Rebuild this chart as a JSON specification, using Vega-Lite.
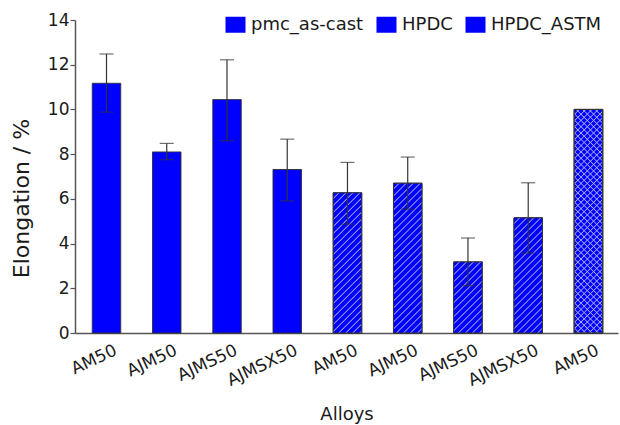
{
  "$schema": "https://vega.github.io/schema/vega-lite/v6.json",
  "autosize": {"type": "none"},
  "padding": {"left": 75, "top": 20, "right": 2, "bottom": 92},
  "width": 543,
  "height": 313,
  "background": "white",
  "config": {
    "view": {"stroke": null},
    "font": "DejaVu Sans",
    "axis": {"grid": false, "domainColor": "#555", "tickColor": "#555", "labelColor": "#1a1a1a", "titleColor": "#1a1a1a", "titleFontWeight": "normal", "domainWidth": 1.5, "tickWidth": 1.2}
  },
  "params": [
    {"name": "hatchA", "value": [
      {"offset":0,"color":"#00f"},{"offset":0.016,"color":"#00f"},{"offset":0.0205,"color":"#aaf"},
      {"offset":0.025,"color":"#00f"},{"offset":0.041,"color":"#00f"},{"offset":0.0455,"color":"#aaf"},
      {"offset":0.05,"color":"#00f"},{"offset":0.066,"color":"#00f"},{"offset":0.0705,"color":"#aaf"},
      {"offset":0.075,"color":"#00f"},{"offset":0.091,"color":"#00f"},{"offset":0.0955,"color":"#aaf"},
      {"offset":0.1,"color":"#00f"},{"offset":0.116,"color":"#00f"},{"offset":0.1205,"color":"#aaf"},
      {"offset":0.125,"color":"#00f"},{"offset":0.141,"color":"#00f"},{"offset":0.1455,"color":"#aaf"},
      {"offset":0.15,"color":"#00f"},{"offset":0.166,"color":"#00f"},{"offset":0.1705,"color":"#aaf"},
      {"offset":0.175,"color":"#00f"},{"offset":0.191,"color":"#00f"},{"offset":0.1955,"color":"#aaf"},
      {"offset":0.2,"color":"#00f"},{"offset":0.216,"color":"#00f"},{"offset":0.2205,"color":"#aaf"},
      {"offset":0.225,"color":"#00f"},{"offset":0.241,"color":"#00f"},{"offset":0.2455,"color":"#aaf"},
      {"offset":0.25,"color":"#00f"},{"offset":0.266,"color":"#00f"},{"offset":0.2705,"color":"#aaf"},
      {"offset":0.275,"color":"#00f"},{"offset":0.291,"color":"#00f"},{"offset":0.2955,"color":"#aaf"},
      {"offset":0.3,"color":"#00f"},{"offset":0.316,"color":"#00f"},{"offset":0.3205,"color":"#aaf"},
      {"offset":0.325,"color":"#00f"},{"offset":0.341,"color":"#00f"},{"offset":0.3455,"color":"#aaf"},
      {"offset":0.35,"color":"#00f"},{"offset":0.366,"color":"#00f"},{"offset":0.3705,"color":"#aaf"},
      {"offset":0.375,"color":"#00f"},{"offset":0.391,"color":"#00f"},{"offset":0.3955,"color":"#aaf"},
      {"offset":0.4,"color":"#00f"},{"offset":0.416,"color":"#00f"},{"offset":0.4205,"color":"#aaf"},
      {"offset":0.425,"color":"#00f"},{"offset":0.441,"color":"#00f"},{"offset":0.4455,"color":"#aaf"},
      {"offset":0.45,"color":"#00f"},{"offset":0.466,"color":"#00f"},{"offset":0.4705,"color":"#aaf"},
      {"offset":0.475,"color":"#00f"},{"offset":0.491,"color":"#00f"},{"offset":0.4955,"color":"#aaf"},
      {"offset":0.5,"color":"#00f"},{"offset":0.516,"color":"#00f"},{"offset":0.5205,"color":"#aaf"},
      {"offset":0.525,"color":"#00f"},{"offset":0.541,"color":"#00f"},{"offset":0.5455,"color":"#aaf"},
      {"offset":0.55,"color":"#00f"},{"offset":0.566,"color":"#00f"},{"offset":0.5705,"color":"#aaf"},
      {"offset":0.575,"color":"#00f"},{"offset":0.591,"color":"#00f"},{"offset":0.5955,"color":"#aaf"},
      {"offset":0.6,"color":"#00f"},{"offset":0.616,"color":"#00f"},{"offset":0.6205,"color":"#aaf"},
      {"offset":0.625,"color":"#00f"},{"offset":0.641,"color":"#00f"},{"offset":0.6455,"color":"#aaf"},
      {"offset":0.65,"color":"#00f"},{"offset":0.666,"color":"#00f"},{"offset":0.6705,"color":"#aaf"},
      {"offset":0.675,"color":"#00f"},{"offset":0.691,"color":"#00f"},{"offset":0.6955,"color":"#aaf"},
      {"offset":0.7,"color":"#00f"},{"offset":0.716,"color":"#00f"},{"offset":0.7205,"color":"#aaf"},
      {"offset":0.725,"color":"#00f"},{"offset":0.741,"color":"#00f"},{"offset":0.7455,"color":"#aaf"},
      {"offset":0.75,"color":"#00f"},{"offset":0.766,"color":"#00f"},{"offset":0.7705,"color":"#aaf"},
      {"offset":0.775,"color":"#00f"},{"offset":0.791,"color":"#00f"},{"offset":0.7955,"color":"#aaf"},
      {"offset":0.8,"color":"#00f"},{"offset":0.816,"color":"#00f"},{"offset":0.8205,"color":"#aaf"},
      {"offset":0.825,"color":"#00f"},{"offset":0.841,"color":"#00f"},{"offset":0.8455,"color":"#aaf"},
      {"offset":0.85,"color":"#00f"},{"offset":0.866,"color":"#00f"},{"offset":0.8705,"color":"#aaf"},
      {"offset":0.875,"color":"#00f"},{"offset":0.891,"color":"#00f"},{"offset":0.8955,"color":"#aaf"},
      {"offset":0.9,"color":"#00f"},{"offset":0.916,"color":"#00f"},{"offset":0.9205,"color":"#aaf"},
      {"offset":0.925,"color":"#00f"},{"offset":0.941,"color":"#00f"},{"offset":0.9455,"color":"#aaf"},
      {"offset":0.95,"color":"#00f"},{"offset":0.966,"color":"#00f"},{"offset":0.9705,"color":"#aaf"},
      {"offset":0.975,"color":"#00f"},{"offset":0.991,"color":"#00f"},{"offset":0.9955,"color":"#aaf"},
      {"offset":1,"color":"#00f"}
    ]},
    {"name": "hatchB", "value": [
      {"offset":0,"color":"rgba(170,170,255,0)"},{"offset":0.016,"color":"rgba(170,170,255,0)"},{"offset":0.0205,"color":"#aaf"},
      {"offset":0.025,"color":"rgba(170,170,255,0)"},{"offset":0.041,"color":"rgba(170,170,255,0)"},{"offset":0.0455,"color":"#aaf"},
      {"offset":0.05,"color":"rgba(170,170,255,0)"},{"offset":0.066,"color":"rgba(170,170,255,0)"},{"offset":0.0705,"color":"#aaf"},
      {"offset":0.075,"color":"rgba(170,170,255,0)"},{"offset":0.091,"color":"rgba(170,170,255,0)"},{"offset":0.0955,"color":"#aaf"},
      {"offset":0.1,"color":"rgba(170,170,255,0)"},{"offset":0.116,"color":"rgba(170,170,255,0)"},{"offset":0.1205,"color":"#aaf"},
      {"offset":0.125,"color":"rgba(170,170,255,0)"},{"offset":0.141,"color":"rgba(170,170,255,0)"},{"offset":0.1455,"color":"#aaf"},
      {"offset":0.15,"color":"rgba(170,170,255,0)"},{"offset":0.166,"color":"rgba(170,170,255,0)"},{"offset":0.1705,"color":"#aaf"},
      {"offset":0.175,"color":"rgba(170,170,255,0)"},{"offset":0.191,"color":"rgba(170,170,255,0)"},{"offset":0.1955,"color":"#aaf"},
      {"offset":0.2,"color":"rgba(170,170,255,0)"},{"offset":0.216,"color":"rgba(170,170,255,0)"},{"offset":0.2205,"color":"#aaf"},
      {"offset":0.225,"color":"rgba(170,170,255,0)"},{"offset":0.241,"color":"rgba(170,170,255,0)"},{"offset":0.2455,"color":"#aaf"},
      {"offset":0.25,"color":"rgba(170,170,255,0)"},{"offset":0.266,"color":"rgba(170,170,255,0)"},{"offset":0.2705,"color":"#aaf"},
      {"offset":0.275,"color":"rgba(170,170,255,0)"},{"offset":0.291,"color":"rgba(170,170,255,0)"},{"offset":0.2955,"color":"#aaf"},
      {"offset":0.3,"color":"rgba(170,170,255,0)"},{"offset":0.316,"color":"rgba(170,170,255,0)"},{"offset":0.3205,"color":"#aaf"},
      {"offset":0.325,"color":"rgba(170,170,255,0)"},{"offset":0.341,"color":"rgba(170,170,255,0)"},{"offset":0.3455,"color":"#aaf"},
      {"offset":0.35,"color":"rgba(170,170,255,0)"},{"offset":0.366,"color":"rgba(170,170,255,0)"},{"offset":0.3705,"color":"#aaf"},
      {"offset":0.375,"color":"rgba(170,170,255,0)"},{"offset":0.391,"color":"rgba(170,170,255,0)"},{"offset":0.3955,"color":"#aaf"},
      {"offset":0.4,"color":"rgba(170,170,255,0)"},{"offset":0.416,"color":"rgba(170,170,255,0)"},{"offset":0.4205,"color":"#aaf"},
      {"offset":0.425,"color":"rgba(170,170,255,0)"},{"offset":0.441,"color":"rgba(170,170,255,0)"},{"offset":0.4455,"color":"#aaf"},
      {"offset":0.45,"color":"rgba(170,170,255,0)"},{"offset":0.466,"color":"rgba(170,170,255,0)"},{"offset":0.4705,"color":"#aaf"},
      {"offset":0.475,"color":"rgba(170,170,255,0)"},{"offset":0.491,"color":"rgba(170,170,255,0)"},{"offset":0.4955,"color":"#aaf"},
      {"offset":0.5,"color":"rgba(170,170,255,0)"},{"offset":0.516,"color":"rgba(170,170,255,0)"},{"offset":0.5205,"color":"#aaf"},
      {"offset":0.525,"color":"rgba(170,170,255,0)"},{"offset":0.541,"color":"rgba(170,170,255,0)"},{"offset":0.5455,"color":"#aaf"},
      {"offset":0.55,"color":"rgba(170,170,255,0)"},{"offset":0.566,"color":"rgba(170,170,255,0)"},{"offset":0.5705,"color":"#aaf"},
      {"offset":0.575,"color":"rgba(170,170,255,0)"},{"offset":0.591,"color":"rgba(170,170,255,0)"},{"offset":0.5955,"color":"#aaf"},
      {"offset":0.6,"color":"rgba(170,170,255,0)"},{"offset":0.616,"color":"rgba(170,170,255,0)"},{"offset":0.6205,"color":"#aaf"},
      {"offset":0.625,"color":"rgba(170,170,255,0)"},{"offset":0.641,"color":"rgba(170,170,255,0)"},{"offset":0.6455,"color":"#aaf"},
      {"offset":0.65,"color":"rgba(170,170,255,0)"},{"offset":0.666,"color":"rgba(170,170,255,0)"},{"offset":0.6705,"color":"#aaf"},
      {"offset":0.675,"color":"rgba(170,170,255,0)"},{"offset":0.691,"color":"rgba(170,170,255,0)"},{"offset":0.6955,"color":"#aaf"},
      {"offset":0.7,"color":"rgba(170,170,255,0)"},{"offset":0.716,"color":"rgba(170,170,255,0)"},{"offset":0.7205,"color":"#aaf"},
      {"offset":0.725,"color":"rgba(170,170,255,0)"},{"offset":0.741,"color":"rgba(170,170,255,0)"},{"offset":0.7455,"color":"#aaf"},
      {"offset":0.75,"color":"rgba(170,170,255,0)"},{"offset":0.766,"color":"rgba(170,170,255,0)"},{"offset":0.7705,"color":"#aaf"},
      {"offset":0.775,"color":"rgba(170,170,255,0)"},{"offset":0.791,"color":"rgba(170,170,255,0)"},{"offset":0.7955,"color":"#aaf"},
      {"offset":0.8,"color":"rgba(170,170,255,0)"},{"offset":0.816,"color":"rgba(170,170,255,0)"},{"offset":0.8205,"color":"#aaf"},
      {"offset":0.825,"color":"rgba(170,170,255,0)"},{"offset":0.841,"color":"rgba(170,170,255,0)"},{"offset":0.8455,"color":"#aaf"},
      {"offset":0.85,"color":"rgba(170,170,255,0)"},{"offset":0.866,"color":"rgba(170,170,255,0)"},{"offset":0.8705,"color":"#aaf"},
      {"offset":0.875,"color":"rgba(170,170,255,0)"},{"offset":0.891,"color":"rgba(170,170,255,0)"},{"offset":0.8955,"color":"#aaf"},
      {"offset":0.9,"color":"rgba(170,170,255,0)"},{"offset":0.916,"color":"rgba(170,170,255,0)"},{"offset":0.9205,"color":"#aaf"},
      {"offset":0.925,"color":"rgba(170,170,255,0)"},{"offset":0.941,"color":"rgba(170,170,255,0)"},{"offset":0.9455,"color":"#aaf"},
      {"offset":0.95,"color":"rgba(170,170,255,0)"},{"offset":0.966,"color":"rgba(170,170,255,0)"},{"offset":0.9705,"color":"#aaf"},
      {"offset":0.975,"color":"rgba(170,170,255,0)"},{"offset":0.991,"color":"rgba(170,170,255,0)"},{"offset":0.9955,"color":"#aaf"},
      {"offset":1,"color":"rgba(170,170,255,0)"}
    ]}
  ],
  "data": {"values": [
    {"bar": "AM50 pmc", "process": "pmc_as-cast", "elong": 11.17, "lo": 9.88, "hi": 12.48},
    {"bar": "AJM50 pmc", "process": "pmc_as-cast", "elong": 8.1, "lo": 7.75, "hi": 8.48},
    {"bar": "AJMS50 pmc", "process": "pmc_as-cast", "elong": 10.44, "lo": 8.6, "hi": 12.22},
    {"bar": "AJMSX50 pmc", "process": "pmc_as-cast", "elong": 7.31, "lo": 5.91, "hi": 8.67},
    {"bar": "AM50 HPDC", "process": "HPDC", "elong": 6.27, "lo": 4.87, "hi": 7.63},
    {"bar": "AJM50 HPDC", "process": "HPDC", "elong": 6.7, "lo": 5.54, "hi": 7.87},
    {"bar": "AJMS50 HPDC", "process": "HPDC", "elong": 3.18, "lo": 2.11, "hi": 4.25},
    {"bar": "AJMSX50 HPDC", "process": "HPDC", "elong": 5.15, "lo": 3.57, "hi": 6.72},
    {"bar": "AM50 HPDC_ASTM", "process": "HPDC_ASTM", "elong": 10.0, "lo": null, "hi": null}
  ]},
  "encoding": {
    "x": {
      "field": "bar", "type": "nominal", "sort": null,
      "scale": {"paddingInner": 0.527, "paddingOuter": 0.27, "align": 0.53},
      "axis": {"title": "Alloys", "titleFontSize": 18, "titleBaseline": "alphabetic", "titleY": 86, "labelExpr": "split(datum.label, ' ')[0]", "labelAngle": -25, "labelAlign": "right", "labelBaseline": "top", "labelPadding": 9, "labelOffset": 6, "labelFontSize": 17, "ticks": false, "labelOverlap": false}
    }
  },
  "layer": [
    {
      "mark": {"type": "bar", "color": "#0000ff", "stroke": "#333", "strokeWidth": 1},
      "encoding": {
        "y": {
          "field": "elong", "type": "quantitative",
          "scale": {"domain": [0, 14], "nice": false, "zero": true},
          "axis": {"title": "Elongation / %", "titleFontSize": 22, "titleY": 178, "titlePadding": 14, "values": [0,1,2,3,4,5,6,7,8,9,10,11,12,13,14], "labelExpr": "datum.value % 2 == 0 ? datum.label : ''", "labelFontSize": 17, "labelPadding": 1, "tickSize": {"condition": {"test": "datum.value % 2 == 1", "value": 3}, "value": 5}}
        },
        "strokeDash": {
          "field": "process", "type": "nominal",
          "scale": {"domain": ["pmc_as-cast", "HPDC", "HPDC_ASTM"], "range": [[1, 0], [1, 0], [1, 0]]},
          "legend": {
            "title": null, "orient": "none", "legendX": 150, "legendY": -6, "direction": "horizontal",
            "columnPadding": 10, "labelFontSize": 18, "labelOffset": 5, "labelColor": "#1a1a1a",
            "symbolType": "M-1,-0.8H1V0.8H-1Z", "symbolSize": 400, "symbolStrokeColor": "#333", "symbolStrokeWidth": 1, "symbolOpacity": 1
          }
        }
      }
    },
    {
      "transform": [{"filter": "datum.process != 'pmc_as-cast'"}],
      "mark": {"type": "bar", "stroke": "#333", "strokeWidth": 1},
      "encoding": {
        "y": {"field": "elong", "type": "quantitative"},
        "fill": {"value": {"expr": "{gradient: 'linear', x1: 0, y1: 0, x2: (datum.process == 'HPDC_ASTM' ? 252 : 280) * bandwidth('x') / (pow(bandwidth('x'), 2) + pow(scale('y', 0) - scale('y', datum.elong), 2)), y2: (datum.process == 'HPDC_ASTM' ? 252 : 280) * (scale('y', 0) - scale('y', datum.elong)) / (pow(bandwidth('x'), 2) + pow(scale('y', 0) - scale('y', datum.elong), 2)), stops: hatchA}"}}
      }
    },
    {
      "transform": [{"filter": "datum.process == 'HPDC_ASTM'"}],
      "mark": {"type": "bar", "stroke": "#333", "strokeWidth": 1},
      "encoding": {
        "y": {"field": "elong", "type": "quantitative"},
        "fill": {"value": {"expr": "{gradient: 'linear', x1: 0, y1: 1, x2: 252 * bandwidth('x') / (pow(bandwidth('x'), 2) + pow(scale('y', 0) - scale('y', datum.elong), 2)), y2: 1 - 252 * (scale('y', 0) - scale('y', datum.elong)) / (pow(bandwidth('x'), 2) + pow(scale('y', 0) - scale('y', datum.elong), 2)), stops: hatchB}"}}
      }
    },
    {
      "transform": [{"filter": "isValid(datum.lo)"}],
      "mark": {"type": "rule", "color": "#333", "strokeWidth": 1.2},
      "encoding": {"y": {"field": "lo", "type": "quantitative"}, "y2": {"field": "hi"}}
    },
    {
      "transform": [{"filter": "isValid(datum.hi)"}],
      "mark": {"type": "tick", "color": "#333", "size": 14, "thickness": 1.2},
      "encoding": {"y": {"field": "hi", "type": "quantitative"}}
    },
    {
      "transform": [{"filter": "isValid(datum.lo)"}],
      "mark": {"type": "tick", "color": "#333", "size": 14, "thickness": 1.2},
      "encoding": {"y": {"field": "lo", "type": "quantitative"}}
    }
  ]
}
